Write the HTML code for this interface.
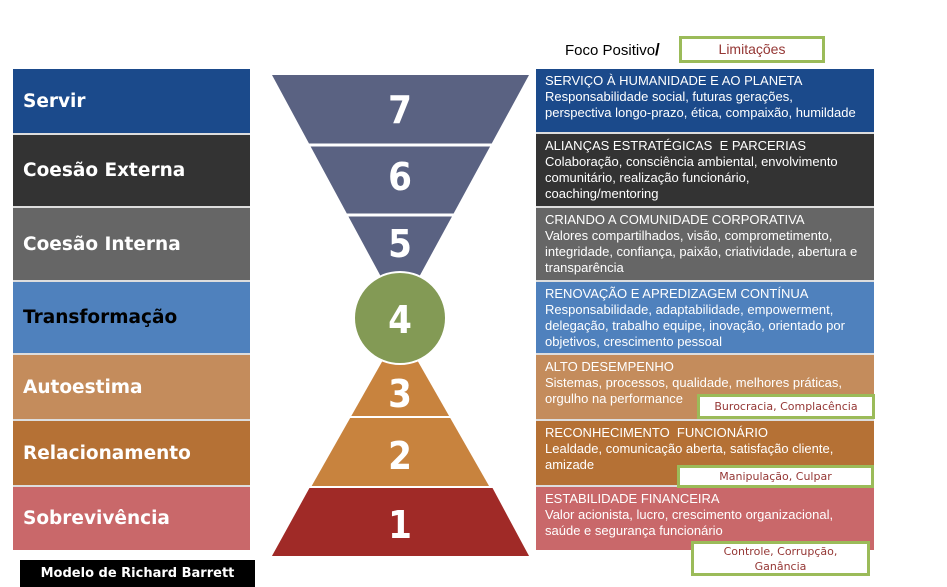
<!DOCTYPE html>
<html><head><meta charset="utf-8"><style>
body{margin:0;width:947px;height:587px;background:#fff;position:relative;overflow:hidden;font-family:"Liberation Sans",sans-serif}
.l{position:absolute;left:13px;width:237px;color:#fff;font:bold 18.5px "DejaVu Sans",sans-serif;display:flex;align-items:center;padding-left:10px;box-sizing:border-box;border-bottom:2px solid #ddd}
.r{position:absolute;left:536px;width:338px;color:#fff;font-size:13px;line-height:16px;padding:4px 9px;box-sizing:border-box;border-bottom:2px solid #ddd;white-space:nowrap}
.g{position:absolute;background:#fff;border:3px solid #9bbb59;color:#953735;font:11px "DejaVu Sans",sans-serif;text-align:center;box-sizing:border-box}
</style></head><body>
<div style="position:absolute;left:565px;top:40px;font-size:15px;color:#000">Foco Positivo<b style="font-size:17px">/</b></div>
<div class="g" style="left:679px;top:36px;width:146px;height:27px;font:14px 'Liberation Sans',sans-serif;line-height:21px">Limitações</div>

<div class="l" style="top:69px;height:66px;background:#1b4a8b">Servir</div>
<div class="l" style="top:135px;height:73px;background:#333">Coesão Externa</div>
<div class="l" style="top:208px;height:74px;background:#666">Coesão Interna</div>
<div class="l" style="top:282px;height:73px;background:#4f81bd;color:#000">Transformação</div>
<div class="l" style="top:355px;height:66px;background:#c48c5c">Autoestima</div>
<div class="l" style="top:421px;height:66px;background:#b57135">Relacionamento</div>
<div class="l" style="top:487px;height:63px;background:#c9686a;border:none">Sobrevivência</div>

<div class="r" style="top:69px;height:65px;background:#1b4a8b">SERVIÇO À HUMANIDADE E AO PLANETA<br>Responsabilidade social, futuras gerações,<br>perspectiva longo-prazo, ética, compaixão, humildade</div>
<div class="r" style="top:134px;height:74px;background:#333">ALIANÇAS ESTRATÉGICAS &nbsp;E PARCERIAS<br>Colaboração, consciência ambiental, envolvimento<br>comunitário, realização funcionário,<br>coaching/mentoring</div>
<div class="r" style="top:208px;height:74px;background:#666">CRIANDO A COMUNIDADE CORPORATIVA<br>Valores compartilhados, visão, comprometimento,<br>integridade, confiança, paixão, criatividade, abertura e<br>transparência</div>
<div class="r" style="top:282px;height:73px;background:#4f81bd">RENOVAÇÃO E APREDIZAGEM CONTÍNUA<br>Responsabilidade, adaptabilidade, empowerment,<br>delegação, trabalho equipe, inovação, orientado por<br>objetivos, crescimento pessoal</div>
<div class="r" style="top:355px;height:66px;background:#c48c5c">ALTO DESEMPENHO<br>Sistemas, processos, qualidade, melhores práticas,<br>orgulho na performance</div>
<div class="r" style="top:421px;height:66px;background:#b57135">RECONHECIMENTO &nbsp;FUNCIONÁRIO<br>Lealdade, comunicação aberta, satisfação cliente,<br>amizade</div>
<div class="r" style="top:487px;height:63px;background:#c9686a;border:none">ESTABILIDADE FINANCEIRA<br>Valor acionista, lucro, crescimento organizacional,<br>saúde e segurança funcionário</div>

<div class="g" style="left:697px;top:394px;width:178px;height:25px;line-height:19px">Burocracia, Complacência</div>
<div class="g" style="left:677px;top:465px;width:197px;height:23px;line-height:17px">Manipulação, Culpar</div>
<div class="g" style="left:691px;top:541px;width:179px;height:35px;line-height:15px">Controle, Corrupção,<br>Ganância</div>

<svg style="position:absolute;left:0;top:0" width="947" height="587">
<polygon points="272,75 529,75 400,312" fill="#5a6282"/>
<line x1="300" y1="145" x2="502" y2="145" stroke="#fff" stroke-width="3"/>
<line x1="335" y1="215" x2="466" y2="215" stroke="#fff" stroke-width="3"/>
<polygon points="400,330 272,556 529,556" fill="#c8833e"/>
<polygon points="310,487 492,487 529,556 272,556" fill="#a02a27"/>
<line x1="308" y1="487" x2="494" y2="487" stroke="#fff" stroke-width="2"/>
<line x1="344" y1="417" x2="457" y2="417" stroke="#fff" stroke-width="2"/>
<circle cx="400" cy="318" r="46" fill="#839a55" stroke="#fff" stroke-width="2"/>
<g fill="#fff" font-family="DejaVu Sans Condensed, DejaVu Sans, sans-serif" font-weight="bold" font-size="38" text-anchor="middle">
<text x="400" y="123">7</text><text x="400" y="190">6</text><text x="400" y="257">5</text>
<text x="400" y="333">4</text><text x="400" y="407">3</text><text x="400" y="469">2</text><text x="400" y="538">1</text>
</g>
</svg>
<div style="position:absolute;left:20px;top:560px;width:235px;height:27px;background:#000;color:#fff;font:bold 13px 'DejaVu Sans',sans-serif;text-align:center;line-height:27px">Modelo de Richard Barrett</div>
</body></html>
